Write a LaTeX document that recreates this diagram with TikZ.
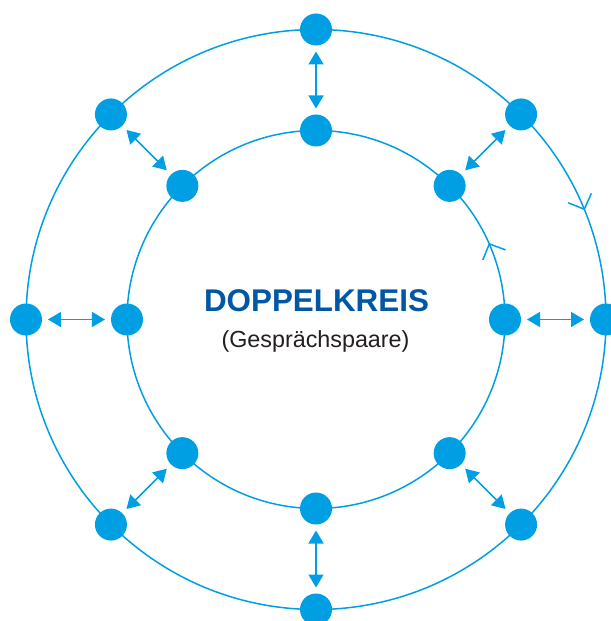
\documentclass[tikz,border=0pt]{standalone}
\usepackage{fontspec}
\setmainfont{Liberation Sans}
\usetikzlibrary{arrows.meta,decorations.markings,calc}
\definecolor{kblue}{HTML}{009FE3}
\definecolor{tblue}{HTML}{0057A3}
\definecolor{tgray}{HTML}{231F20}
\begin{document}
\begin{tikzpicture}[x=1bp,y=-1bp,
  dot/.style={circle,fill=kblue,minimum size=32bp,inner sep=0pt,outer sep=0pt},
  ring/.style={draw=kblue,line width=1.5bp},
  pair/.style={draw=kblue,line width=1.5bp,
    {Triangle[length=13bp,width=15bp]}-{Triangle[length=13bp,width=15bp]},
    shorten <=6bp,shorten >=6bp}]
\useasboundingbox (0,0) rectangle (611,621);
\coordinate (c) at (316,319.5);
% rings with direction marks
\draw[ring,postaction={decorate},decoration={markings,
  mark=at position 0.0615 with {\arrowreversed[kblue]{Straight Barb[length=12bp,width=25bp]}}}]
  (c) circle[radius=290bp];
\draw[ring,postaction={decorate},decoration={markings,
  mark=at position 0.0663 with {\arrow[kblue]{Straight Barb[length=12bp,width=25bp]}}}]
  (c) circle[radius=189bp];
% dots
\foreach \a in {0,45,...,315}{
  \node[dot] (o\a) at ($(c)+(\a:290bp)$) {};
  \node[dot] (i\a) at ($(c)+(\a:189bp)$) {};
}
% pair arrows
\foreach \a in {0,45,...,315}{
  \draw[pair] (o\a) -- (i\a);
}
% text
\node[anchor=base,font=\bfseries\fontsize{31.5}{38}\selectfont,text=tblue,inner sep=0pt] (title) at (316.5,311.5) {DOPPELKREIS};
\node[anchor=base,font=\fontsize{23.4}{28}\selectfont,text=tgray,inner sep=0pt] (sub) at (315.5,347.5) {(Gesprächspaare)};
\end{tikzpicture}
\end{document}
